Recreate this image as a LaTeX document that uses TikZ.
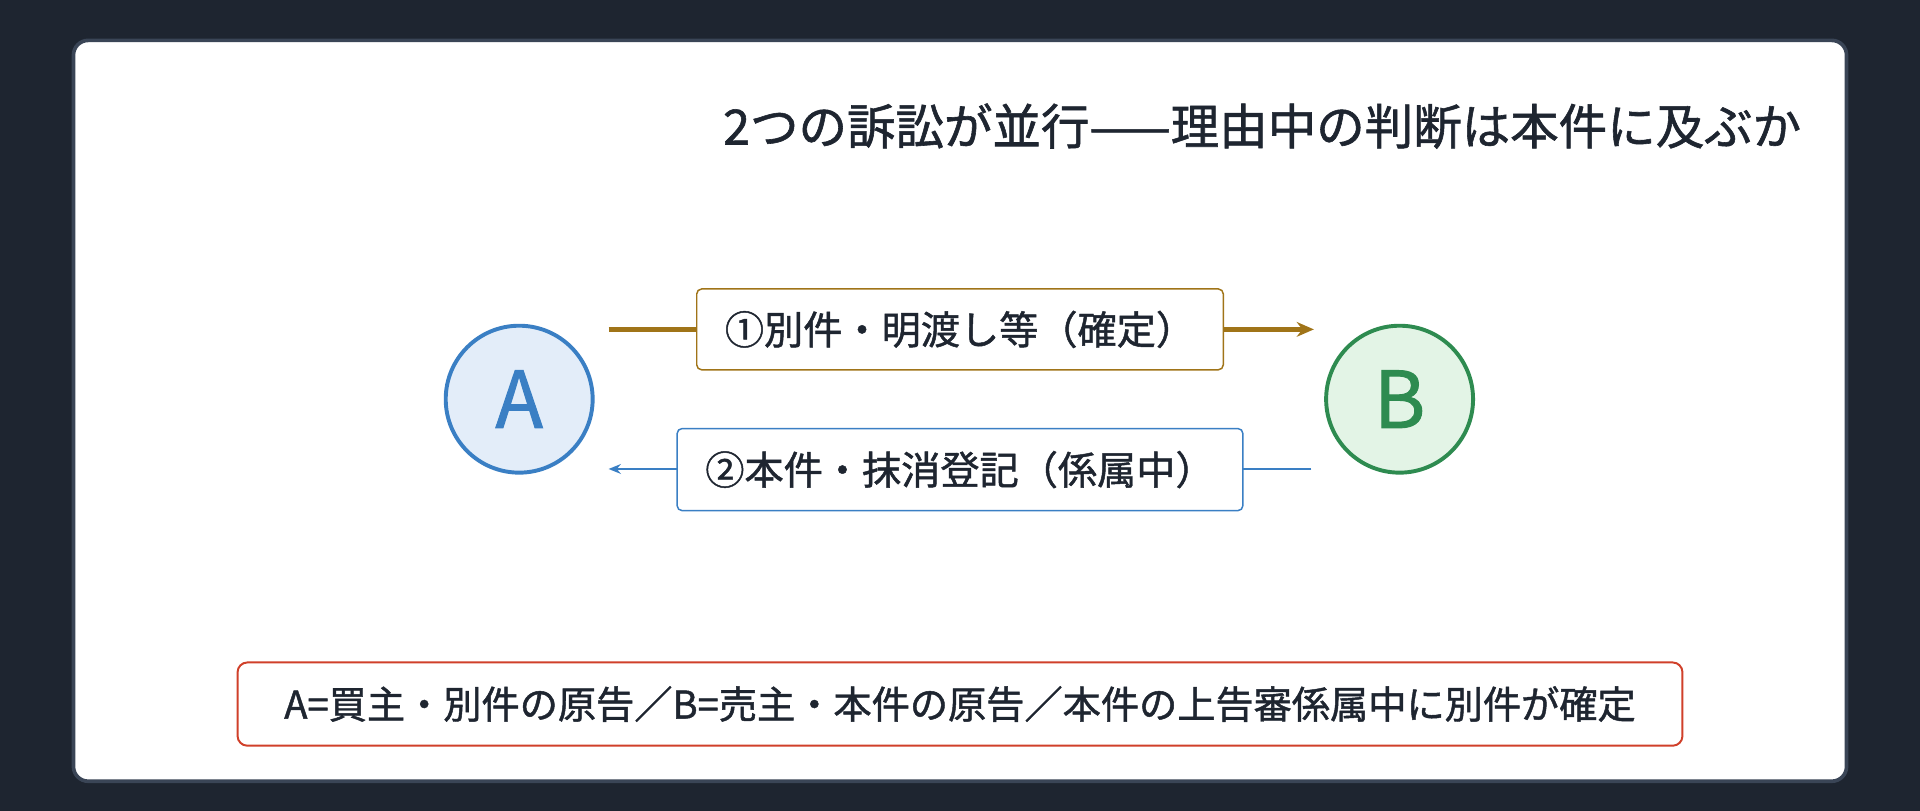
\documentclass[tikz,border=0pt]{standalone}
\usepackage{fontspec}
\setmainfont{Noto Sans CJK JP}[FakeBold=1.2]
\usetikzlibrary{arrows.meta}
\definecolor{bg}{HTML}{1E2530}
\definecolor{cardb}{HTML}{3A4556}
\definecolor{blu}{HTML}{3A7FC4}
\definecolor{blufill}{HTML}{E3EDF9}
\definecolor{grn}{HTML}{2E8B50}
\definecolor{grnfill}{HTML}{E3F4E6}
\definecolor{gold}{HTML}{A07418}
\definecolor{redb}{HTML}{D0402A}
\begin{document}
\begin{tikzpicture}[x=0.5pt,y=-0.5pt,
  party/.style={circle,line width=1.6pt,minimum size=60pt,inner sep=0pt,font=\fontsize{32}{32}\selectfont},
  lbl/.style={draw,fill=white,rounded corners=2pt,line width=0.6pt,text=bg,inner sep=0pt},
]
\fill[bg] (0,0) rectangle (1568,662);
\useasboundingbox (0,0) rectangle (1568,662);
\draw[fill=white,draw=cardb,line width=1.5pt,rounded corners=6pt] (60,33) rectangle (1508,638);
\node[anchor=east,text=bg,font=\fontsize{19.8}{22}\selectfont] (title) at (1478,103) {2つの訴訟が並行——理由中の判断は本件に及ぶか};
\node[party,draw=blu,fill=blufill,text=blu] (A) at (424,326) {A};
\node[party,draw=grn,fill=grnfill,text=grn] (B) at (1143,326) {B};
\coordinate (a1) at (497,269); \coordinate (b1) at (1073,269);
\coordinate (b2) at (1071,383); \coordinate (a2) at (497,383);
\draw[gold,line width=2pt,-{Stealth[length=7pt,width=6pt]}] (a1) -- (b1);
\draw[blu,line width=1pt,-{Stealth[length=5pt,width=4pt]}] (b2) -- (a2);
\node[lbl,draw=gold,font=\fontsize{16}{18}\selectfont,minimum width=215pt,minimum height=33pt] (l1) at (784,269) {①別件・明渡し等（確定）};
\node[lbl,draw=blu,font=\fontsize{16}{18}\selectfont,minimum width=231pt,minimum height=33.5pt] (l2) at (784,383.5) {②本件・抹消登記（係属中）};
\node[lbl,draw=redb,font=\fontsize{15.6}{18}\selectfont,line width=0.8pt,rounded corners=4pt,minimum width=590pt,minimum height=34pt] (note) at (784,575) {A=買主・別件の原告／B=売主・本件の原告／本件の上告審係属中に別件が確定};
\end{tikzpicture}
\end{document}
